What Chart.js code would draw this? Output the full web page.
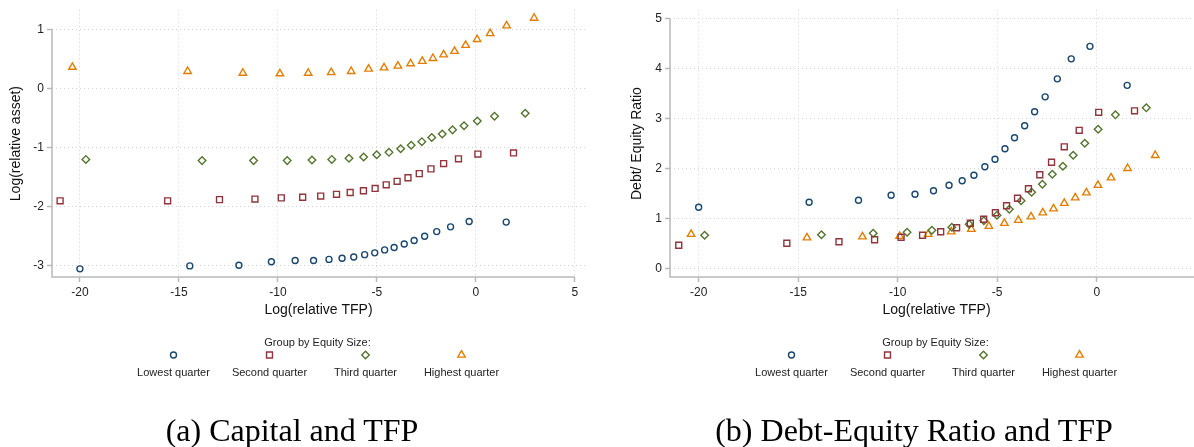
<!DOCTYPE html>
<html>
<head>
<meta charset="utf-8">
<title>Capital, debt-equity ratio and TFP</title>
<script src="https://cdn.jsdelivr.net/npm/chart.js@4.4.1/dist/chart.umd.min.js"></script>
<style>
  body { margin: 0; background: #fff; width: 1194px; height: 447px; overflow: hidden; position: relative; }
  canvas { position: absolute; top: 0; }
  #leftChart { left: 0; }
  #rightChart { left: 597px; }
  .caption { position: absolute; top: 414px; font-family: "Liberation Serif", "Times New Roman", serif; font-size: 32px; line-height: 32px; color: #000; white-space: nowrap; transform: translateX(-50%); }
</style>
</head>
<body>
<canvas id="leftChart" width="597" height="447"></canvas>
<canvas id="rightChart" width="620" height="447"></canvas>
<div class="caption" style="left:292px">(a) Capital and TFP</div>
<div class="caption" style="left:914px">(b) Debt-Equity Ratio and TFP</div>
<script>
// group labels
var groupNames = ["Lowest quarter", "Second quarter", "Third quarter", "Highest quarter"];
var legendTitle = "Group by Equity Size:";

// Log(relative TFP) bin means, per equity group
var tfpLowest  = [-20.0, -14.45, -11.97, -10.33, -9.13, -8.2, -7.42, -6.76, -6.17, -5.62, -5.11, -4.61, -4.13, -3.62, -3.12, -2.59, -1.98, -1.28, -0.34, 1.53];
var tfpSecond  = [-21.0, -15.57, -12.95, -11.16, -9.83, -8.75, -7.84, -7.04, -6.35, -5.68, -5.09, -4.53, -3.98, -3.43, -2.86, -2.27, -1.63, -0.88, 0.1, 1.9];
var tfpThird   = [-19.7, -13.83, -11.23, -9.53, -8.28, -7.28, -6.41, -5.67, -5.01, -4.39, -3.8, -3.27, -2.73, -2.23, -1.7, -1.18, -0.6, 0.07, 0.94, 2.49];
var tfpHighest = [-20.38, -14.56, -11.77, -9.9, -8.47, -7.31, -6.3, -5.42, -4.64, -3.94, -3.3, -2.71, -2.17, -1.63, -1.08, -0.52, 0.06, 0.72, 1.55, 2.94];

// (a) Log(relative asset)
var assetLowest  = [-3.05, -3.0, -2.99, -2.93, -2.91, -2.91, -2.89, -2.87, -2.85, -2.81, -2.78, -2.73, -2.69, -2.63, -2.57, -2.5, -2.42, -2.34, -2.25, -2.26];
var assetSecond  = [-1.9, -1.9, -1.88, -1.87, -1.85, -1.84, -1.82, -1.79, -1.76, -1.73, -1.69, -1.63, -1.57, -1.51, -1.44, -1.36, -1.27, -1.19, -1.11, -1.09];
var assetThird   = [-1.2, -1.22, -1.22, -1.22, -1.21, -1.2, -1.18, -1.16, -1.12, -1.08, -1.02, -0.96, -0.9, -0.83, -0.77, -0.7, -0.63, -0.55, -0.47, -0.42];
var assetHighest = [0.36, 0.29, 0.26, 0.25, 0.26, 0.27, 0.29, 0.33, 0.35, 0.38, 0.42, 0.46, 0.51, 0.57, 0.63, 0.73, 0.83, 0.93, 1.06, 1.19];

// (b) Debt/ Equity Ratio
var debtLowest  = [1.23, 1.33, 1.37, 1.47, 1.49, 1.56, 1.67, 1.76, 1.87, 2.04, 2.19, 2.4, 2.62, 2.86, 3.14, 3.44, 3.8, 4.2, 4.45, 3.67];
var debtSecond  = [0.47, 0.51, 0.54, 0.58, 0.63, 0.67, 0.74, 0.82, 0.91, 0.99, 1.12, 1.26, 1.41, 1.6, 1.88, 2.13, 2.44, 2.77, 3.13, 3.16];
var debtThird   = [0.67, 0.68, 0.71, 0.73, 0.77, 0.83, 0.89, 0.96, 1.07, 1.19, 1.36, 1.53, 1.69, 1.89, 2.05, 2.27, 2.51, 2.79, 3.08, 3.22];
var debtHighest = [0.69, 0.62, 0.64, 0.65, 0.69, 0.74, 0.79, 0.85, 0.91, 0.97, 1.04, 1.12, 1.2, 1.31, 1.42, 1.52, 1.67, 1.82, 2.01, 2.27];

// tick labels
var xTicksAsset = [-20, -15, -10, -5, 0, 5];
var xTicksDebt = [-20, -15, -10, -5, 0];
var yTicksAsset = [-3, -2, -1, 0, 1];
var yTicksDebt = [0, 1, 2, 3, 4, 5];

var colors = ["#1a476f", "#90353b", "#55752f", "#e37e00"];
var shapes = ["circle", "rect", "rectRot", "triangle"];
var sizes = [3, 4.2, 3.8, 4.3];
var sansFont = '"Liberation Sans", Arial, Helvetica, sans-serif';

function toPoints(xs, ys)
{
  var pts = [];
  for (let i = 0; i < xs.length; i++) {
    pts.push({x: xs[i], y: ys[i]});
  }
  return pts;
}

function makeDatasets(series)
{
  var tfps = [tfpLowest, tfpSecond, tfpThird, tfpHighest];
  var sets = [];
  for (let i = 0; i < 4; i++) {
    sets.push({
      label: groupNames[i],
      data: toPoints(tfps[i], series[i]),
      pointStyle: shapes[i],
      pointRadius: sizes[i],
      pointHoverRadius: sizes[i],
      borderColor: colors[i],
      backgroundColor: "rgba(0,0,0,0)",
      pointBorderWidth: 1.4,
      showLine: false
    });
  }
  return sets;
}

// axis lines like Stata: y from top tick down, x from left edge to last tick
var axisLines = {
  id: "axisLines",
  beforeDatasetsDraw(chart, args, opts) {
    var ctx = chart.ctx, a = chart.chartArea;
    var xs = chart.scales.x, ys = chart.scales.y;
    ctx.save();
    ctx.strokeStyle = "#b9b9b9";
    ctx.lineWidth = 1.5;
    ctx.beginPath();
    ctx.moveTo(a.left, ys.getPixelForValue(opts.yTop));
    ctx.lineTo(a.left, a.bottom);
    ctx.lineTo(Math.min(xs.getPixelForValue(opts.xEnd), chart.width), a.bottom);
    ctx.stroke();
    ctx.restore();
  }
};

// legend: title, markers above labels, centred under the plot
var stataLegend = {
  id: "stataLegend",
  afterDraw(chart) {
    var ctx = chart.ctx, a = chart.chartArea;
    var cx = (a.left + a.right) / 2 - 1;
    ctx.save();
    ctx.fillStyle = "#222";
    ctx.font = "11px " + sansFont;
    ctx.textAlign = "center";
    ctx.textBaseline = "middle";
    ctx.fillText(legendTitle, cx, 343);
    chart.data.datasets.forEach(function(ds, i) {
      var x = cx + (i - 1.5) * 96;
      ctx.fillStyle = "#222";
      ctx.fillText(ds.label, x, 373);
      ctx.strokeStyle = ds.borderColor;
      ctx.fillStyle = "rgba(0,0,0,0)";
      ctx.lineWidth = 1.4;
      Chart.helpers.drawPoint(ctx, {pointStyle: ds.pointStyle, radius: ds.pointRadius, rotation: 0, borderWidth: 1.4}, x, 355);
    });
    ctx.restore();
  }
};

function makeChart(id, series, cfg)
{
  return new Chart(id, {
    type: "scatter",
    data: { datasets: makeDatasets(series) },
    plugins: [axisLines, stataLegend],
    options: {
      responsive: false,
      animation: false,
      layout: { padding: { left: cfg.padLeft, right: cfg.padRight, top: 10, bottom: 126 } },
      plugins: {
        legend: { display: false },
        tooltip: { enabled: false },
        axisLines: { yTop: cfg.yTicks[cfg.yTicks.length - 1], xEnd: 5 }
      },
      scales: {
        x: {
          type: "linear",
          min: cfg.xMin,
          max: cfg.xMax,
          afterBuildTicks: function(scale) {
            scale.ticks = cfg.xTicks.map(function(v) { return {value: v}; });
          },
          afterFit: function(scale) { scale.height = 44; },
          ticks: { color: "#222", font: { size: 12, family: sansFont }, padding: 3, maxRotation: 0 },
          grid: { color: "#d2d2d2", lineWidth: 1, tickLength: 5, tickColor: "#b9b9b9", tickWidth: 1.5, tickBorderDash: [] },
          border: { display: false, dash: [1, 3] },
          title: { display: true, text: "Log(relative TFP)", color: "#111", font: { size: 14, family: sansFont }, padding: { top: 0, bottom: 2 } }
        },
        y: {
          type: "linear",
          min: cfg.yMin,
          max: cfg.yMax,
          afterBuildTicks: function(scale) {
            scale.ticks = cfg.yTicks.map(function(v) { return {value: v}; });
          },
          afterFit: function(scale) { scale.width = cfg.yWidth; },
          ticks: { color: "#222", font: { size: 12, family: sansFont }, padding: 3 },
          grid: { color: "#d2d2d2", lineWidth: 1, tickLength: 5, tickColor: "#b9b9b9", tickWidth: 1.5, tickBorderDash: [] },
          border: { display: false, dash: [1, 3] },
          title: { display: true, text: cfg.yTitle, color: "#111", font: { size: 14, family: sansFont }, padding: { top: 8, bottom: 0 } }
        }
      }
    }
  });
}

makeChart("leftChart", [assetLowest, assetSecond, assetThird, assetHighest], {
  xMin: -21.41, xMax: 5.51, yMin: -3.188, yMax: 1.323,
  xTicks: xTicksAsset, yTicks: yTicksAsset, yTitle: "Log(relative asset)",
  padLeft: 0, padRight: 12, yWidth: 52
});

makeChart("rightChart", [debtLowest, debtSecond, debtThird, debtHighest], {
  xMin: -21.44, xMax: 5.34, yMin: -0.166, yMax: 5.174,
  xTicks: xTicksDebt, yTicks: yTicksDebt, yTitle: "Debt/ Equity Ratio",
  padLeft: 24, padRight: 14, yWidth: 49
});
</script>
</body>
</html>
